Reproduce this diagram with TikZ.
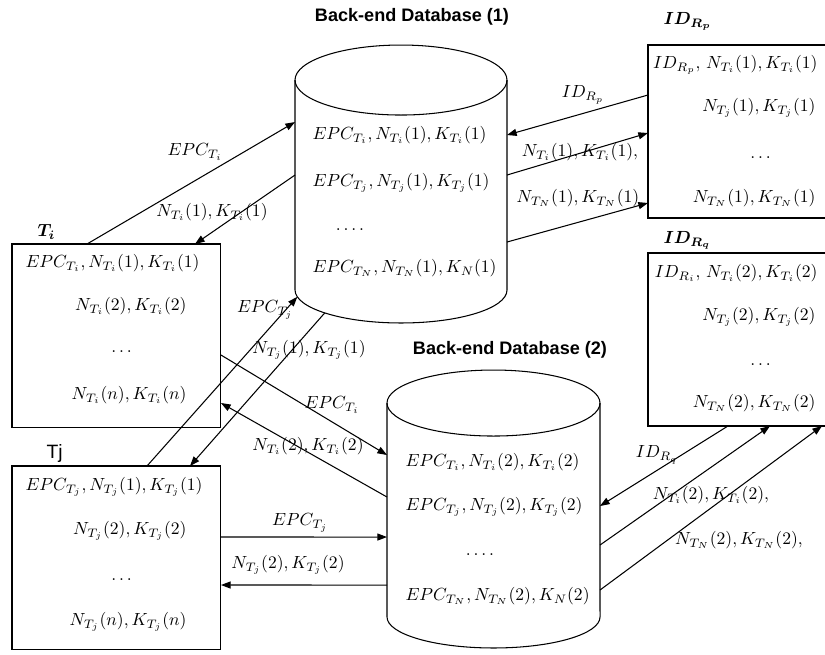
\documentclass[tikz,border=0pt]{standalone}
\usepackage{amsmath}
\usepackage{fontspec}
\newfontfamily\arialfont{Liberation Sans}
\usetikzlibrary{arrows.meta, positioning, calc}

\begin{document}
\begin{tikzpicture}[
    x=0.02cm, y=0.02cm,
    line width=0.6pt,
    tagbox/.style={rectangle, draw=black, inner sep=0pt, outer sep=0pt, minimum width=4.18cm, minimum height=3.67cm, anchor=north west},
    readerbox/.style={tagbox, minimum width=3.64cm, minimum height=3.46cm},
    dbbody/.style={rectangle, inner sep=0pt, outer sep=0pt, minimum width=4.24cm, minimum height=4.2cm},
    dbtitle/.style={font=\arialfont\bfseries\fontsize{10.3}{12}\selectfont},
    entry/.style={inner sep=0pt},
    msg/.style={inner sep=0pt},
    arrow/.style={-{Triangle[length=5.5pt, width=4pt]}}
]
    \useasboundingbox (0,0) rectangle (825,-654);
    \clip (0,0) rectangle (825,-654);

    % Back-end databases
    \node[dbbody] (db1) at (401,-185) {};
    \node[dbbody, minimum width=4.26cm, minimum height=4.28cm] (db2) at (493.5,-510) {};
    \draw (db1.north west) -- (db1.south west) arc[start angle=180, end angle=360, x radius=106, y radius=33] -- (db1.north east);
    \draw (db1.north) ellipse[x radius=106, y radius=35];
    \draw (db2.north west) -- (db2.south west) arc[start angle=180, end angle=360, x radius=106.5, y radius=31] -- (db2.north east);
    \draw (db2.north) ellipse[x radius=106.5, y radius=33];

    \node[dbtitle] (title1) at (412,-17) {Back-end Database (1)};
    \node[dbtitle] (title2) at (510,-350) {Back-end Database (2)};

    \node[entry, anchor=west] (db1a) at (312,-135) {$EPC_{T_i}, N_{T_i}(1), K_{T_i}(1)$};
    \node[entry, anchor=west] (db1b) at (312,-183) {$EPC_{T_j}, N_{T_j}(1), K_{T_j}(1)$};
    \node[entry] (db1c) at (350,-230) {$.\,.\,.\,.$};
    \node[entry, anchor=west] (db1d) at (312,-268) {$EPC_{T_N}, N_{T_N}(1), K_N(1)$};

    \node[entry, anchor=west] (db2a) at (405,-462) {$EPC_{T_i}, N_{T_i}(2), K_{T_i}(2)$};
    \node[entry, anchor=west] (db2b) at (405,-507) {$EPC_{T_j}, N_{T_j}(2), K_{T_j}(2)$};
    \node[entry] (db2c) at (480,-555) {$.\,.\,.\,.$};
    \node[entry, anchor=west] (db2d) at (405,-596) {$EPC_{T_N}, N_{T_N}(2), K_N(2)$};

    % Tags
    \node[tagbox] (ti) at (12,-244) {};
    \node[tagbox] (tj) at (12,-466) {};
    \node[above right=0.08cm and 0.5cm of ti.north west, inner sep=0pt] (tilabel) {$\boldsymbol{T_i}$};
    \node[above right=0.06cm and 0.68cm of tj.north west, inner sep=0pt, font=\arialfont\fontsize{11}{13}\selectfont] (tjlabel) {Tj};

    \node[entry, anchor=west] (ti1) at (25,-263) {$EPC_{T_i}, N_{T_i}(1), K_{T_i}(1)$};
    \node[entry, anchor=east] (ti2) at (187,-306) {$N_{T_i}(2), K_{T_i}(2)$};
    \node[entry] (ti3) at (123,-352) {$\dots$};
    \node[entry, anchor=east] (ti4) at (187,-395) {$N_{T_i}(n), K_{T_i}(n)$};

    \node[entry, anchor=west] (tj1) at (25,-487) {$EPC_{T_j}, N_{T_j}(1), K_{T_j}(1)$};
    \node[entry, anchor=east] (tj2) at (187,-531) {$N_{T_j}(2), K_{T_j}(2)$};
    \node[entry] (tj3) at (123,-580) {$\dots$};
    \node[entry, anchor=east] (tj4) at (187,-622) {$N_{T_j}(n), K_{T_j}(n)$};

    % Readers
    \node[readerbox] (rp) at (648,-45) {};
    \node[readerbox] (rq) at (648,-253) {};
    \node[above right=0.28cm and 0.3cm of rp.north west, inner sep=0pt] (rplabel) {$\boldsymbol{ID_{R_p}}$};
    \node[above right=0.06cm and 0.3cm of rq.north west, inner sep=0pt] (rqlabel) {$\boldsymbol{ID_{R_q}}$};

    \node[entry, anchor=east] (rp1) at (818,-65) {$ID_{R_p},\, N_{T_i}(1), K_{T_i}(1)$};
    \node[entry, anchor=east] (rp2) at (816,-108) {$N_{T_j}(1), K_{T_j}(1)$};
    \node[entry] (rp3) at (762,-158) {$\dots$};
    \node[entry, anchor=east] (rp4) at (816,-198) {$N_{T_N}(1), K_{T_N}(1)$};

    \node[entry, anchor=east] (rq1) at (818,-273) {$ID_{R_i},\, N_{T_i}(2), K_{T_i}(2)$};
    \node[entry, anchor=east] (rq2) at (816,-317) {$N_{T_j}(2), K_{T_j}(2)$};
    \node[entry] (rq3) at (762,-365) {$\dots$};
    \node[entry, anchor=east] (rq4) at (816,-403) {$N_{T_N}(2), K_{T_N}(2)$};

    % Messages
    \draw[arrow] ($(ti.north west)+(75,0)$) -- ($(db1.north west)+(0,-42)$);
    \draw[arrow] ($(db1.north west)+(0,-95)$) -- ($(ti.north west)+(183,0)$);
    \draw[arrow] ($(rp.north west)+(0,-50)$) -- ($(db1.north east)+(0,-55)$);
    \draw[arrow] ($(db1.north east)+(0,-95)$) -- ($(rp.north west)+(0,-88)$);
    \draw[arrow] ($(db1.north east)+(0,-162)$) -- ($(rp.north west)+(0,-158)$);
    \draw[arrow] ($(tj.north west)+(135,0)$) -- ($(db1.south)+(192:106 and 33)$);
    \draw[arrow] ($(db1.south)+(224:106 and 33)$) -- ($(tj.north west)+(178,0)$);
    \draw[arrow] ($(ti.north east)+(0,-111)$) -- ($(db2.north west)+(0,-52)$);
    \draw[arrow] ($(db2.north west)+(0,-94)$) -- ($(ti.north east)+(0,-159)$);
    \draw[arrow] ($(tj.north east)+(0,-71)$) -- ($(db2.north west)+(0,-134)$);
    \draw[arrow] ($(db2.north west)+(0,-182)$) -- ($(tj.north east)+(0,-119)$);
    \draw[arrow] ($(rq.south west)+(80,0)$) -- ($(db2.north east)+(0,-103)$);
    \draw[arrow] ($(db2.north east)+(0,-142)$) -- ($(rq.south west)+(122,0)$);
    \draw[arrow] ($(db2.north east)+(0,-187)$) -- ($(rq.south west)+(174,0)$);

    \node[msg] (m1) at (195,-152) {$EPC_{T_i}$};
    \node[msg] (m2) at (212,-212) {$N_{T_i}(1), K_{T_i}(1)$};
    \node[msg] (m3) at (583,-95) {$ID_{R_p}$};
    \node[msg] (m4) at (580,-152) {$N_{T_i}(1), K_{T_i}(1),$};
    \node[msg] (m5) at (578,-198) {$N_{T_N}(1), K_{T_N}(1)$};
    \node[msg] (m6) at (265,-310) {$EPC_{T_j}$};
    \node[msg] (m7) at (309,-350) {$N_{T_j}(1), K_{T_j}(1)$};
    \node[msg] (m8) at (332,-405) {$EPC_{T_i}$};
    \node[msg] (m9) at (308,-446) {$N_{T_i}(2), K_{T_i}(2)$};
    \node[msg] (m10) at (300,-523) {$EPC_{T_j}$};
    \node[msg] (m11) at (288,-565) {$N_{T_j}(2), K_{T_j}(2)$};
    \node[msg] (m12) at (657,-455) {$ID_{R_q}$};
    \node[msg] (m13) at (711,-495) {$N_{T_i}(2), K_{T_i}(2),$};
    \node[msg] (m14) at (739,-540) {$N_{T_N}(2), K_{T_N}(2),$};
\end{tikzpicture}
\end{document}
